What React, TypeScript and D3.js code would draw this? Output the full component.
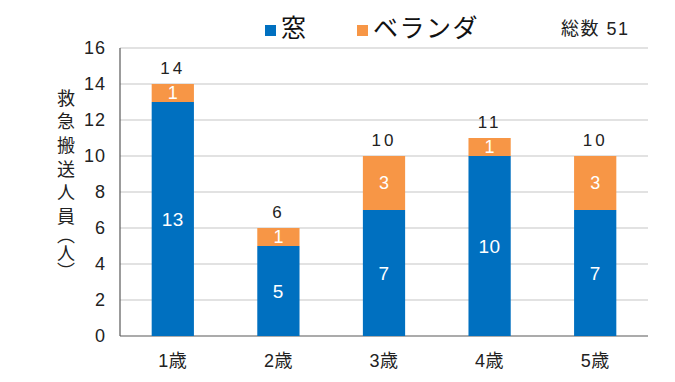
import React from "react";
import * as d3 from "d3";

const categories = ["1歳", "2歳", "3歳", "4歳", "5歳"];
const windowValues = [13, 5, 7, 10, 7];
const balconyValues = [1, 1, 3, 1, 3];
const seriesNames = ["窓", "ベランダ"];
const yTicks = [0, 2, 4, 6, 8, 10, 12, 14, 16];
const totalText = "総数 51";
const yLabelMain = "救急搬送人員";
const yLabelUnit = "︵人︶";

const W = 675;
const H = 382;
const BLUE = "#0070C0";
const ORANGE = "#F79646";
const FONT = "'Liberation Sans', 'Noto Sans CJK JP', sans-serif";

export default function App() {
  const left = 120, right = 648, top = 48, bottom = 336;
  const x = d3.scaleBand<string>().domain(categories).range([left, right]).paddingInner(0.6).paddingOuter(0.3);
  const y = d3.scaleLinear().domain([0, 16]).range([bottom, top]);
  const totals = windowValues.map((v, i) => v + balconyValues[i]);

  return (
    <svg width={W} height={H} style={{ position: "absolute", left: 0, top: 0, background: "#fff" }} fontFamily={FONT}>
      {yTicks.map((t) => (
        <g key={t}>
          {t > 0 && <line x1={left} x2={right} y1={y(t)} y2={y(t)} stroke="#d9d9d9" strokeWidth={1.5} />}
          <text x={106} y={y(t)} dy="0.36em" textAnchor="end" fontSize={18} letterSpacing={1} fill="#222">{t}</text>
        </g>
      ))}
      <line x1={left} x2={left} y1={top} y2={bottom} stroke="#595959" strokeWidth={1.2} />
      <line x1={left} x2={right} y1={bottom} y2={bottom} stroke="#595959" strokeWidth={1.2} />
      {categories.map((c, i) => {
        const bx = x(c)!;
        const bw = x.bandwidth();
        const cx = bx + bw / 2;
        const w0 = y(0), w1 = y(windowValues[i]), b1 = y(totals[i]);
        return (
          <g key={c}>
            <rect x={bx} y={w1} width={bw} height={w0 - w1} fill={BLUE} />
            <rect x={bx} y={b1} width={bw} height={w1 - b1} fill={ORANGE} />
            <text x={cx} y={(w0 + w1) / 2} dy="0.36em" textAnchor="middle" fontSize={19} letterSpacing={0.5} fill="#fff">{windowValues[i]}</text>
            <text x={cx} y={(w1 + b1) / 2} dy="0.36em" textAnchor="middle" fontSize={18} fill="#fff">{balconyValues[i]}</text>
            <text x={cx} y={b1 - 16} dy="0.36em" textAnchor="middle" fontSize={17} letterSpacing={3} fill="#222">{totals[i]}</text>
            <text x={cx} y={361} dy="0.36em" textAnchor="middle" fontSize={18} letterSpacing={0.5} fill="#222">{c}</text>
          </g>
        );
      })}
      <text x={64} y={89} writingMode="vertical-rl" fontSize={18} letterSpacing={5.6} fill="#222">{yLabelMain}</text>
      <text x={64} y={226} writingMode="vertical-rl" fontSize={18} letterSpacing={0} fill="#222">{yLabelUnit}</text>
      <rect x={265} y={25} width={11} height={11} fill={BLUE} />
      <text x={281} y={28} dy="0.36em" fontSize={25} fill="#111">{seriesNames[0]}</text>
      <rect x={357} y={25} width={11} height={11} fill={ORANGE} />
      <text x={373} y={28} dy="0.36em" fontSize={25} letterSpacing={1.5} fill="#111">{seriesNames[1]}</text>
      <text x={561} y={29} dy="0.36em" fontSize={18} letterSpacing={1.5} fill="#222">{totalText}</text>
    </svg>
  );
}
